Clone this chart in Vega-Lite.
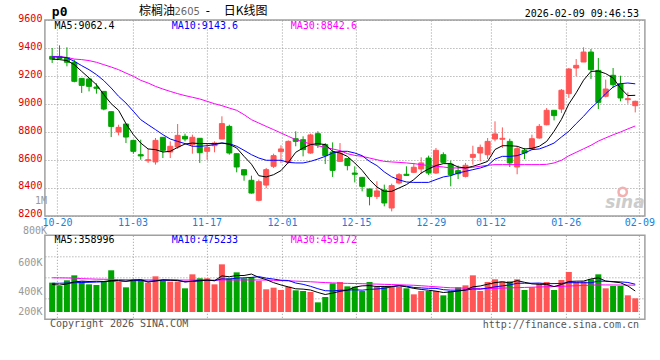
{
  "$schema": "https://vega.github.io/schema/vega-lite/v6.json",
  "background": "white",
  "padding": {"left": 16.9, "top": 4, "right": 0, "bottom": 0},
  "spacing": 19.3,
  "bounds": "flush",
  "config": {
    "view": {"stroke": "#a0a0a0", "strokeWidth": 1.5},
    "axis": {"labelFont": "DejaVu Sans Mono", "labelFontSize": 10, "domain": false, "ticks": false, "title": null, "labelOverlap": false, "gridDash": [1, 2], "gridColor": "#999999", "gridWidth": 1}
  },
  "datasets": {
    "k": [
      {"i":0,"d":"10-17","o":9340,"h":9400,"l":9293,"c":9320,"v":502000,"m5":9321,"m10":9336,"m30":9340,"vm5":470000,"vm10":490000,"vm30":585000},
      {"i":1,"d":"10-20","o":9340,"h":9419,"l":9318,"c":9325,"v":445000,"m5":9317,"m10":9336,"m30":9338,"vm5":460000,"vm10":492000,"vm30":584000},
      {"i":2,"d":"10-21","o":9331,"h":9405,"l":9269,"c":9298,"v":542000,"m5":9310,"m10":9331,"m30":9333,"vm5":480000,"vm10":495000,"vm30":582000},
      {"i":3,"d":"10-22","o":9298,"h":9317,"l":9155,"c":9162,"v":627000,"m5":9281,"m10":9305,"m30":9321,"vm5":515000,"vm10":500000,"vm30":580000},
      {"i":4,"d":"10-23","o":9183,"h":9185,"l":9079,"c":9133,"v":524000,"m5":9233,"m10":9274,"m30":9317,"vm5":528000,"vm10":505000,"vm30":570000},
      {"i":5,"d":"10-24","o":9179,"h":9182,"l":9090,"c":9126,"v":473000,"m5":9186,"m10":9245,"m30":9310,"vm5":522000,"vm10":508000,"vm30":566000},
      {"i":6,"d":"10-27","o":9121,"h":9148,"l":9074,"c":9112,"v":462000,"m5":9138,"m10":9210,"m30":9298,"vm5":526000,"vm10":512000,"vm30":562000},
      {"i":7,"d":"10-28","o":9090,"h":9092,"l":8955,"c":8964,"v":524000,"m5":9067,"m10":9167,"m30":9281,"vm5":522000,"vm10":518000,"vm30":560000},
      {"i":8,"d":"10-29","o":8945,"h":8947,"l":8764,"c":8840,"v":713000,"m5":9002,"m10":9114,"m30":9264,"vm5":539000,"vm10":525000,"vm30":558000},
      {"i":9,"d":"10-30","o":8800,"h":8852,"l":8776,"c":8833,"v":513000,"m5":8955,"m10":9055,"m30":9245,"vm5":537000,"vm10":533000,"vm30":555000},
      {"i":10,"d":"10-31","o":8857,"h":8860,"l":8721,"c":8764,"v":422000,"m5":8860,"m10":9007,"m30":9221,"vm5":527000,"vm10":525000,"vm30":553000},
      {"i":11,"d":"11-03","o":8740,"h":8745,"l":8645,"c":8662,"v":559000,"m5":8781,"m10":8948,"m30":9198,"vm5":546000,"vm10":536000,"vm30":551000},
      {"i":12,"d":"11-04","o":8638,"h":8745,"l":8602,"c":8629,"v":559000,"m5":8721,"m10":8888,"m30":9169,"vm5":553000,"vm10":538000,"vm30":550000},
      {"i":13,"d":"11-05","o":8595,"h":8679,"l":8579,"c":8602,"v":502000,"m5":8679,"m10":8852,"m30":9150,"vm5":511000,"vm10":525000,"vm30":549000},
      {"i":14,"d":"11-06","o":8586,"h":8757,"l":8567,"c":8740,"v":610000,"m5":8674,"m10":8817,"m30":9126,"vm5":530000,"vm10":534000,"vm30":548000},
      {"i":15,"d":"11-07","o":8762,"h":8764,"l":8614,"c":8669,"v":530000,"m5":8657,"m10":8781,"m30":9107,"vm5":552000,"vm10":540000,"vm30":548000},
      {"i":16,"d":"11-10","o":8657,"h":8733,"l":8614,"c":8698,"v":519000,"m5":8662,"m10":8750,"m30":9090,"vm5":544000,"vm10":545000,"vm30":547000},
      {"i":17,"d":"11-11","o":8693,"h":8857,"l":8679,"c":8776,"v":519000,"m5":8690,"m10":8733,"m30":9074,"vm5":536000,"vm10":545000,"vm30":547000},
      {"i":18,"d":"11-12","o":8769,"h":8788,"l":8733,"c":8750,"v":405000,"m5":8714,"m10":8717,"m30":9060,"vm5":517000,"vm10":514000,"vm30":546000},
      {"i":19,"d":"11-13","o":8710,"h":8781,"l":8645,"c":8762,"v":644000,"m5":8721,"m10":8698,"m30":9048,"vm5":523000,"vm10":527000,"vm30":546000},
      {"i":20,"d":"11-14","o":8755,"h":8757,"l":8579,"c":8652,"v":576000,"m5":8717,"m10":8698,"m30":9036,"vm5":533000,"vm10":543000,"vm30":546000},
      {"i":21,"d":"11-17","o":8662,"h":8721,"l":8602,"c":8690,"v":576000,"m5":8717,"m10":8702,"m30":9019,"vm5":544000,"vm10":544000,"vm30":546000},
      {"i":22,"d":"11-18","o":8702,"h":8733,"l":8655,"c":8721,"v":473000,"m5":8717,"m10":8710,"m30":9002,"vm5":535000,"vm10":536000,"vm30":545000},
      {"i":23,"d":"11-19","o":8750,"h":8912,"l":8750,"c":8860,"v":815000,"m5":8721,"m10":8721,"m30":8988,"vm5":617000,"vm10":567000,"vm30":547000},
      {"i":24,"d":"11-20","o":8840,"h":8852,"l":8638,"c":8650,"v":576000,"m5":8712,"m10":8717,"m30":8971,"vm5":603000,"vm10":563000,"vm30":548000},
      {"i":25,"d":"11-21","o":8645,"h":8648,"l":8512,"c":8550,"v":678000,"m5":8686,"m10":8698,"m30":8955,"vm5":624000,"vm10":579000,"vm30":548000},
      {"i":26,"d":"11-24","o":8531,"h":8533,"l":8452,"c":8493,"v":576000,"m5":8626,"m10":8669,"m30":8924,"vm5":624000,"vm10":584000,"vm30":548000},
      {"i":27,"d":"11-25","o":8455,"h":8488,"l":8360,"c":8364,"v":599000,"m5":8570,"m10":8638,"m30":8888,"vm5":649000,"vm10":592000,"vm30":548000},
      {"i":28,"d":"11-26","o":8312,"h":8460,"l":8305,"c":8445,"v":530000,"m5":8488,"m10":8614,"m30":8864,"vm5":592000,"vm10":605000,"vm30":547000},
      {"i":29,"d":"11-27","o":8421,"h":8543,"l":8398,"c":8531,"v":388000,"m5":8479,"m10":8598,"m30":8840,"vm5":554000,"vm10":579000,"vm30":546000},
      {"i":30,"d":"11-28","o":8555,"h":8645,"l":8543,"c":8631,"v":416000,"m5":8495,"m10":8598,"m30":8817,"vm5":502000,"vm10":563000,"vm30":542000},
      {"i":31,"d":"12-01","o":8660,"h":8705,"l":8579,"c":8679,"v":376000,"m5":8524,"m10":8598,"m30":8793,"vm5":462000,"vm10":543000,"vm30":537000},
      {"i":32,"d":"12-02","o":8583,"h":8740,"l":8574,"c":8733,"v":433000,"m5":8583,"m10":8583,"m30":8769,"vm5":429000,"vm10":539000,"vm30":532000},
      {"i":33,"d":"12-03","o":8752,"h":8805,"l":8698,"c":8733,"v":371000,"m5":8655,"m10":8579,"m30":8745,"vm5":397000,"vm10":495000,"vm30":528000},
      {"i":34,"d":"12-04","o":8745,"h":8769,"l":8626,"c":8674,"v":359000,"m5":8686,"m10":8579,"m30":8731,"vm5":391000,"vm10":473000,"vm30":523000},
      {"i":35,"d":"12-05","o":8650,"h":8788,"l":8645,"c":8779,"v":342000,"m5":8710,"m10":8590,"m30":8714,"vm5":376000,"vm10":439000,"vm30":517000},
      {"i":36,"d":"12-08","o":8788,"h":8805,"l":8686,"c":8710,"v":165000,"m5":8717,"m10":8607,"m30":8702,"vm5":334000,"vm10":398000,"vm30":510000},
      {"i":37,"d":"12-09","o":8710,"h":8721,"l":8571,"c":8631,"v":257000,"m5":8710,"m10":8626,"m30":8690,"vm5":299000,"vm10":364000,"vm30":503000},
      {"i":38,"d":"12-10","o":8657,"h":8726,"l":8479,"c":8526,"v":490000,"m5":8662,"m10":8650,"m30":8679,"vm5":323000,"vm10":360000,"vm30":498000},
      {"i":39,"d":"12-11","o":8590,"h":8721,"l":8586,"c":8650,"v":513000,"m5":8650,"m10":8662,"m30":8667,"vm5":353000,"vm10":372000,"vm30":493000},
      {"i":40,"d":"12-12","o":8610,"h":8612,"l":8526,"c":8560,"v":439000,"m5":8626,"m10":8662,"m30":8645,"vm5":373000,"vm10":375000,"vm30":490000},
      {"i":41,"d":"12-15","o":8507,"h":8555,"l":8440,"c":8498,"v":433000,"m5":8579,"m10":8650,"m30":8633,"vm5":426000,"vm10":380000,"vm30":487000},
      {"i":42,"d":"12-16","o":8476,"h":8479,"l":8376,"c":8412,"v":359000,"m5":8526,"m10":8631,"m30":8626,"vm5":447000,"vm10":373000,"vm30":484000},
      {"i":43,"d":"12-17","o":8393,"h":8395,"l":8276,"c":8340,"v":513000,"m5":8460,"m10":8590,"m30":8614,"vm5":451000,"vm10":387000,"vm30":480000},
      {"i":44,"d":"12-18","o":8340,"h":8448,"l":8321,"c":8379,"v":433000,"m5":8407,"m10":8560,"m30":8602,"vm5":435000,"vm10":394000,"vm30":477000},
      {"i":45,"d":"12-19","o":8386,"h":8424,"l":8269,"c":8293,"v":445000,"m5":8376,"m10":8515,"m30":8590,"vm5":437000,"vm10":405000,"vm30":473000},
      {"i":46,"d":"12-22","o":8257,"h":8431,"l":8233,"c":8417,"v":433000,"m5":8376,"m10":8480,"m30":8586,"vm5":437000,"vm10":432000,"vm30":469000},
      {"i":47,"d":"12-23","o":8436,"h":8507,"l":8426,"c":8495,"v":433000,"m5":8400,"m10":8458,"m30":8583,"vm5":451000,"vm10":449000,"vm30":465000},
      {"i":48,"d":"12-24","o":8498,"h":8555,"l":8488,"c":8490,"v":405000,"m5":8424,"m10":8443,"m30":8579,"vm5":430000,"vm10":441000,"vm30":461000},
      {"i":49,"d":"12-25","o":8512,"h":8579,"l":8507,"c":8548,"v":302000,"m5":8460,"m10":8440,"m30":8574,"vm5":404000,"vm10":420000,"vm30":457000},
      {"i":50,"d":"12-26","o":8536,"h":8619,"l":8500,"c":8579,"v":359000,"m5":8507,"m10":8440,"m30":8567,"vm5":386000,"vm10":412000,"vm30":449000},
      {"i":51,"d":"12-29","o":8614,"h":8631,"l":8493,"c":8507,"v":359000,"m5":8536,"m10":8440,"m30":8560,"vm5":372000,"vm10":405000,"vm30":440000},
      {"i":52,"d":"12-30","o":8507,"h":8686,"l":8500,"c":8669,"v":359000,"m5":8560,"m10":8460,"m30":8555,"vm5":357000,"vm10":404000,"vm30":431000},
      {"i":53,"d":"12-31","o":8638,"h":8655,"l":8579,"c":8583,"v":285000,"m5":8574,"m10":8479,"m30":8550,"vm5":333000,"vm10":382000,"vm30":422000},
      {"i":54,"d":"01-05","o":8571,"h":8595,"l":8412,"c":8495,"v":359000,"m5":8574,"m10":8488,"m30":8543,"vm5":344000,"vm10":374000,"vm30":414000},
      {"i":55,"d":"01-06","o":8524,"h":8560,"l":8464,"c":8502,"v":422000,"m5":8550,"m10":8507,"m30":8543,"vm5":357000,"vm10":372000,"vm30":411000},
      {"i":56,"d":"01-07","o":8483,"h":8579,"l":8476,"c":8562,"v":456000,"m5":8543,"m10":8519,"m30":8543,"vm5":376000,"vm10":374000,"vm30":408000},
      {"i":57,"d":"01-08","o":8619,"h":8702,"l":8567,"c":8640,"v":627000,"m5":8555,"m10":8531,"m30":8548,"vm5":430000,"vm10":394000,"vm30":405000},
      {"i":58,"d":"01-09","o":8650,"h":8710,"l":8590,"c":8690,"v":359000,"m5":8571,"m10":8543,"m30":8555,"vm5":445000,"vm10":389000,"vm30":402000},
      {"i":59,"d":"01-12","o":8638,"h":8757,"l":8607,"c":8733,"v":513000,"m5":8590,"m10":8560,"m30":8562,"vm5":475000,"vm10":410000,"vm30":400000},
      {"i":60,"d":"01-13","o":8750,"h":8876,"l":8733,"c":8786,"v":559000,"m5":8675,"m10":8607,"m30":8567,"vm5":503000,"vm10":430000,"vm30":404000},
      {"i":61,"d":"01-14","o":8748,"h":8833,"l":8686,"c":8755,"v":524000,"m5":8702,"m10":8626,"m30":8567,"vm5":516000,"vm10":446000,"vm30":408000},
      {"i":62,"d":"01-15","o":8733,"h":8752,"l":8550,"c":8579,"v":524000,"m5":8702,"m10":8626,"m30":8567,"vm5":496000,"vm10":463000,"vm30":412000},
      {"i":63,"d":"01-16","o":8550,"h":8698,"l":8498,"c":8681,"v":559000,"m5":8698,"m10":8631,"m30":8567,"vm5":536000,"vm10":491000,"vm30":416000},
      {"i":64,"d":"01-19","o":8669,"h":8686,"l":8607,"c":8650,"v":376000,"m5":8679,"m10":8650,"m30":8567,"vm5":508000,"vm10":492000,"vm30":420000},
      {"i":65,"d":"01-20","o":8679,"h":8781,"l":8674,"c":8752,"v":422000,"m5":8683,"m10":8674,"m30":8567,"vm5":481000,"vm10":492000,"vm30":424000},
      {"i":66,"d":"01-21","o":8757,"h":8857,"l":8752,"c":8840,"v":490000,"m5":8698,"m10":8679,"m30":8567,"vm5":474000,"vm10":495000,"vm30":428000},
      {"i":67,"d":"01-22","o":8852,"h":8971,"l":8848,"c":8955,"v":513000,"m5":8733,"m10":8698,"m30":8569,"vm5":472000,"vm10":484000,"vm30":432000},
      {"i":68,"d":"01-23","o":8955,"h":8957,"l":8883,"c":8917,"v":376000,"m5":8805,"m10":8721,"m30":8579,"vm5":435000,"vm10":486000,"vm30":436000},
      {"i":69,"d":"01-26","o":8964,"h":9107,"l":8936,"c":9098,"v":547000,"m5":8890,"m10":8764,"m30":8598,"vm5":470000,"vm10":489000,"vm30":439000},
      {"i":70,"d":"01-27","o":9074,"h":9257,"l":9043,"c":9250,"v":684000,"m5":9000,"m10":8805,"m30":8630,"vm5":522000,"vm10":502000,"vm30":444000},
      {"i":71,"d":"01-28","o":9257,"h":9321,"l":9198,"c":9276,"v":513000,"m5":9080,"m10":8860,"m30":8655,"vm5":527000,"vm10":501000,"vm30":449000},
      {"i":72,"d":"01-29","o":9300,"h":9405,"l":9300,"c":9371,"v":524000,"m5":9170,"m10":8912,"m30":8680,"vm5":529000,"vm10":501000,"vm30":454000},
      {"i":73,"d":"01-30","o":9371,"h":9393,"l":9179,"c":9245,"v":559000,"m5":9233,"m10":8971,"m30":8705,"vm5":565000,"vm10":500000,"vm30":459000},
      {"i":74,"d":"02-02","o":9240,"h":9329,"l":8964,"c":9012,"v":644000,"m5":9235,"m10":9019,"m30":8735,"vm5":585000,"vm10":528000,"vm30":464000},
      {"i":75,"d":"02-03","o":9055,"h":9174,"l":9048,"c":9107,"v":405000,"m5":9217,"m10":9074,"m30":8758,"vm5":529000,"vm10":526000,"vm30":463000},
      {"i":76,"d":"02-04","o":9205,"h":9257,"l":9114,"c":9138,"v":445000,"m5":9186,"m10":9121,"m30":8780,"vm5":515000,"vm10":521000,"vm30":462000},
      {"i":77,"d":"02-05","o":9145,"h":9202,"l":9019,"c":9043,"v":445000,"m5":9114,"m10":9145,"m30":8800,"vm5":500000,"vm10":515000,"vm30":461000},
      {"i":78,"d":"02-06","o":9031,"h":9083,"l":9002,"c":9038,"v":285000,"m5":9060,"m10":9150,"m30":8822,"vm5":445000,"vm10":505000,"vm30":460000},
      {"i":79,"d":"02-09","o":8988,"h":9024,"l":8940,"c":9019,"v":234000,"m5":9062,"m10":9144,"m30":8843,"vm5":359000,"vm10":475000,"vm30":459000}
    ]
  },
  "vconcat": [
    {
      "width": 600,
      "height": 196,
      "data": {"name": "k"},
      "layer": [
        {"data": {"values": [{}]}, "mark": {"type": "text", "text": "sina", "align": "center", "baseline": "middle", "font": "DejaVu Sans", "fontSize": 17, "fontWeight": "bold", "fontStyle": "italic", "color": "#cccccc"}, "encoding": {"x": {"datum": 77.6}, "y": {"datum": 8296}}},
        {"data": {"values": [{}]}, "mark": {"type": "point", "shape": "circle", "filled": false, "size": 70, "strokeWidth": 2.5, "color": "#f2b0b0", "opacity": 1}, "encoding": {"x": {"datum": 77.3}, "y": {"datum": 8372}}},
        {
          "mark": {"type": "rule", "strokeWidth": 1},
          "encoding": {
            "x": {"field": "i", "type": "quantitative", "scale": {"domain": [-0.306, 79.63], "nice": false, "zero": false},
              "axis": {"values": [0.667, 10.885, 20.917, 31.136, 41.168, 51.293, 59.38, 69.6, 79.56], "tickCount": 30, "grid": true, "labelColor": "#1a7fd9", "labelPadding": 2, "labelFlush": true, "labelOverlap": false,
                "labelExpr": "['10-20','11-03','11-17','12-01','12-15','12-29','01-12','01-26','02-09'][indexof([1,11,21,31,41,51,59,70,80], round(datum.value))]"}},
            "y": {"field": "l", "type": "quantitative", "scale": {"domain": [8200, 9600], "nice": false, "zero": false},
              "axis": {"values": [8200, 8400, 8600, 8800, 9000, 9200, 9400, 9600], "tickCount": 30, "format": "d", "grid": true, "labelColor": "#e00000", "labelPadding": 3, "labelOffset": -2, "labelFlush": false, "labelOverlap": false}},
            "y2": {"field": "h"},
            "color": {"condition": {"test": "datum.c >= datum.o", "value": "#ff5555"}, "value": "#00a400"}
          }
        },
        {
          "mark": {"type": "bar", "width": 5, "strokeWidth": 1},
          "encoding": {
            "x": {"field": "i", "type": "quantitative"},
            "y": {"field": "o", "type": "quantitative"},
            "y2": {"field": "c"},
            "color": {"condition": {"test": "datum.c >= datum.o", "value": "#ff5555"}, "value": "#00a400"},
            "stroke": {"condition": {"test": "datum.c >= datum.o", "value": "#ff5555"}, "value": "#00a400"}
          }
        },
        {"mark": {"type": "line", "color": "#ff00ff", "strokeWidth": 1}, "encoding": {"x": {"field": "i", "type": "quantitative"}, "y": {"field": "m30", "type": "quantitative"}}},
        {"mark": {"type": "line", "color": "#0000ff", "strokeWidth": 1}, "encoding": {"x": {"field": "i", "type": "quantitative"}, "y": {"field": "m10", "type": "quantitative"}}},
        {"mark": {"type": "line", "color": "#000000", "strokeWidth": 1}, "encoding": {"x": {"field": "i", "type": "quantitative"}, "y": {"field": "m5", "type": "quantitative"}}},
        {"data": {"values": [{}]}, "mark": {"type": "text", "text": "MA5:9062.4", "align": "left", "baseline": "middle", "font": "DejaVu Sans Mono", "fontSize": 10, "color": "#000000"}, "encoding": {"x": {"datum": 0.32}, "y": {"datum": 9555}}},
        {"data": {"values": [{}]}, "mark": {"type": "text", "text": "MA10:9143.6", "align": "left", "baseline": "middle", "font": "DejaVu Sans Mono", "fontSize": 10, "color": "#0000ff"}, "encoding": {"x": {"datum": 16.21}, "y": {"datum": 9555}}},
        {"data": {"values": [{}]}, "mark": {"type": "text", "text": "MA30:8842.6", "align": "left", "baseline": "middle", "font": "DejaVu Sans Mono", "fontSize": 10, "color": "#ff00ff"}, "encoding": {"x": {"datum": 32.33}, "y": {"datum": 9555}}},
        {"data": {"values": [{}]}, "mark": {"type": "text", "text": "p0", "align": "left", "baseline": "middle", "font": "DejaVu Sans Mono", "fontSize": 13, "fontWeight": "bold", "color": "#000000"}, "encoding": {"x": {"datum": -0.04}, "y": {"datum": 9659}}},
        {"data": {"values": [{}]}, "mark": {"type": "text", "text": "棕榈油", "align": "left", "baseline": "middle", "font": "Noto Sans CJK SC", "fontSize": 12, "color": "#000000"}, "encoding": {"x": {"datum": 11.78}, "y": {"datum": 9662}}},
        {"data": {"values": [{}]}, "mark": {"type": "text", "text": "2605", "align": "left", "baseline": "middle", "font": "DejaVu Sans", "fontSize": 10, "color": "#666666"}, "encoding": {"x": {"datum": 16.57}, "y": {"datum": 9660}}},
        {"data": {"values": [{}]}, "mark": {"type": "text", "text": "-", "align": "center", "baseline": "middle", "font": "DejaVu Sans Mono", "fontSize": 12, "color": "#000000"}, "encoding": {"x": {"datum": 21.08}, "y": {"datum": 9662}}},
        {"data": {"values": [{}]}, "mark": {"type": "text", "text": "日K线图", "align": "left", "baseline": "middle", "font": "Noto Sans CJK SC", "fontSize": 12, "color": "#000000"}, "encoding": {"x": {"datum": 23.24}, "y": {"datum": 9662}}},
        {"data": {"values": [{}]}, "mark": {"type": "text", "text": "2026-02-09 09:46:53", "align": "right", "baseline": "middle", "font": "DejaVu Sans Mono", "fontSize": 10, "color": "#000000"}, "encoding": {"x": {"datum": 79.5}, "y": {"datum": 9646}}}
      ]
    },
    {
      "width": 600,
      "height": 84,
      "data": {"name": "k"},
      "layer": [
        {
          "mark": {"type": "bar", "width": 6},
          "encoding": {
            "x": {"field": "i", "type": "quantitative", "scale": {"domain": [-0.306, 79.63], "nice": false, "zero": false},
              "axis": {"values": [0.667, 10.885, 20.917, 31.136, 41.168, 51.293, 59.38, 69.6, 79.56], "tickCount": 30, "grid": true, "labels": false}},
            "y": {"field": "v", "type": "quantitative", "scale": {"domain": [-124800, 1311600], "nice": false, "zero": false},
              "axis": {"values": [12000, 234000, 354000, 593000, 855000, 952000], "tickCount": 30, "grid": true, "labelColor": "#999999", "labelPadding": 3, "labelFlush": false, "labelOverlap": false,
                "labelExpr": "datum.value == 12000 ? '200K' : datum.value == 354000 ? '400K' : datum.value == 855000 ? '600K' : ''",
                "gridOpacity": {"condition": {"test": "datum.value == 234000 || datum.value == 593000 || datum.value == 952000", "value": 1}, "value": 0}}},
            "y2": {"datum": 0},
            "color": {"condition": {"test": "datum.c >= datum.o", "value": "#ff5555"}, "value": "#00a400"}
          }
        },
        {"mark": {"type": "line", "color": "#ff00ff", "strokeWidth": 1}, "encoding": {"x": {"field": "i", "type": "quantitative"}, "y": {"field": "vm30", "type": "quantitative"}}},
        {"mark": {"type": "line", "color": "#0000ff", "strokeWidth": 1}, "encoding": {"x": {"field": "i", "type": "quantitative"}, "y": {"field": "vm10", "type": "quantitative"}}},
        {"mark": {"type": "line", "color": "#000000", "strokeWidth": 1}, "encoding": {"x": {"field": "i", "type": "quantitative"}, "y": {"field": "vm5", "type": "quantitative"}}},
        {"data": {"values": [{}]}, "mark": {"type": "text", "text": "MA5:358996", "align": "left", "baseline": "middle", "font": "DejaVu Sans Mono", "fontSize": 10, "color": "#000000"}, "encoding": {"x": {"datum": 0.32}, "y": {"datum": 1226000}}},
        {"data": {"values": [{}]}, "mark": {"type": "text", "text": "MA10:475233", "align": "left", "baseline": "middle", "font": "DejaVu Sans Mono", "fontSize": 10, "color": "#0000ff"}, "encoding": {"x": {"datum": 16.21}, "y": {"datum": 1226000}}},
        {"data": {"values": [{}]}, "mark": {"type": "text", "text": "MA30:459172", "align": "left", "baseline": "middle", "font": "DejaVu Sans Mono", "fontSize": 10, "color": "#ff00ff"}, "encoding": {"x": {"datum": 32.33}, "y": {"datum": 1226000}}},
        {"data": {"values": [{}]}, "mark": {"type": "text", "text": "800K", "align": "right", "baseline": "middle", "font": "DejaVu Sans Mono", "fontSize": 10, "color": "#999999"}, "encoding": {"x": {"datum": -0.706}, "y": {"datum": 1385000}}},
        {"data": {"values": [{}]}, "mark": {"type": "text", "text": "1M", "align": "right", "baseline": "middle", "font": "DejaVu Sans Mono", "fontSize": 10, "color": "#999999"}, "encoding": {"x": {"datum": -0.706}, "y": {"datum": 1893000}}},
        {"data": {"values": [{}]}, "mark": {"type": "text", "text": "Copyright 2026 SINA.COM", "align": "left", "baseline": "middle", "font": "DejaVu Sans Mono", "fontSize": 10, "color": "#555555"}, "encoding": {"x": {"datum": -0.306}, "y": {"datum": -210000}}},
        {"data": {"values": [{}]}, "mark": {"type": "text", "text": "http://finance.sina.com.cn", "align": "right", "baseline": "middle", "font": "DejaVu Sans Mono", "fontSize": 10, "color": "#555555"}, "encoding": {"x": {"datum": 79.5}, "y": {"datum": -227000}}}
      ]
    }
  ]
}
